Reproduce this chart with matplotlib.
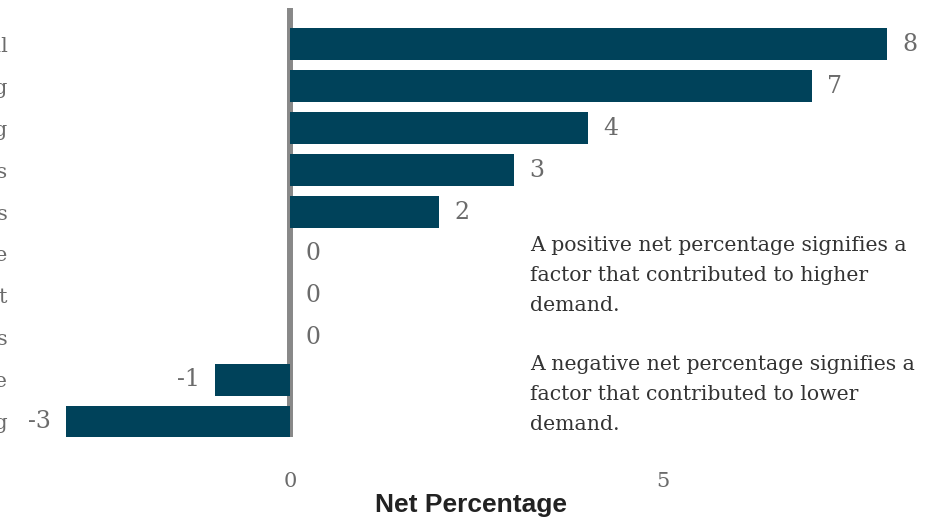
import matplotlib
matplotlib.use("Agg")
import matplotlib.pyplot as plt

# factors (top to bottom) and their net percentages
factors = [
    "Need for working capital",
    "Inventory financing",
    "Accounts receivable financing",
    "Investment in plant or equipment needs",
    "Merger or acquisition financing needs",
    "Change in interest rate",
    "Customer investment in plant",
    "Borrowing shifted from other sources",
    "Precautionary demand for cash and liquidity reserve",
    "Trade financing",
]
net_pct = [8, 7, 4, 3, 2, 0, 0, 0, -1, -3]

note = ("A positive net percentage signifies a\n"
        "factor that contributed to higher\n"
        "demand.\n"
        "\n"
        "A negative net percentage signifies a\n"
        "factor that contributed to lower\n"
        "demand.")

bar_color = "#00425a"
label_color = "#6b6b6b"
serif = "DejaVu Serif"

fig = plt.figure(figsize=(9.39, 5.22), dpi=100)
ax = fig.add_axes([20 / 939, 85 / 522, 919 / 939, 429 / 522])

ypos = list(range(len(factors)))
ax.barh(ypos, net_pct, height=0.78, color=bar_color, zorder=3)

for y, v in zip(ypos, net_pct):
    if v >= 0:
        ax.annotate(str(v), (v, y), xytext=(11, 0), textcoords="offset points",
                    ha="left", va="center", fontsize=17, family=serif,
                    color=label_color)
    else:
        ax.annotate(str(v), (v, y), xytext=(-11, 0), textcoords="offset points",
                    ha="right", va="center", fontsize=17, family=serif,
                    color=label_color)

# zero line sits under the bars
ax.axvline(0, color="#888888", linewidth=4.3, zorder=2, solid_capstyle="round")

ax.set_xlim(-3.62, 8.70)
ax.set_ylim(9.36, -0.86)
ax.set_yticks(ypos)
ax.set_yticklabels(factors, family=serif, fontsize=15, color=label_color)
ax.set_xticks([0, 5])
ax.set_xticklabels(["0", "5"], family=serif, fontsize=15, color=label_color)
ax.tick_params(axis="y", length=0, pad=9)
ax.tick_params(axis="x", length=0, pad=25)
for s in ax.spines.values():
    s.set_visible(False)

fig.text(471 / 939, 1 - 512 / 522, "Net Percentage", ha="center", va="baseline",
         fontsize=19, fontweight="bold", family="Liberation Sans", color="#222222")

fig.text(530 / 939, 1 - 236 / 522, note, ha="left", va="top", fontsize=14.7,
         family=serif, color="#333333", linespacing=1.72)

fig.savefig("out.png", dpi=100)
